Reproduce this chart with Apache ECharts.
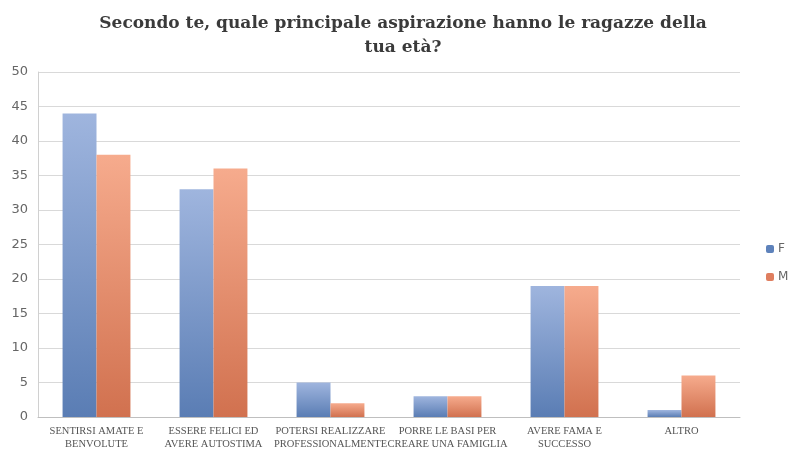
<!DOCTYPE html>
<html><head><meta charset="utf-8">
<script src="https://cdn.jsdelivr.net/npm/echarts@6/dist/echarts.min.js"></script>
<style>html,body{margin:0;padding:0;background:#fff}#c{width:790px;height:451px}</style>
</head><body><div id="c"></div>
<script>
const categories = ["SENTIRSI AMATE E\nBENVOLUTE","ESSERE FELICI ED\nAVERE AUTOSTIMA","POTERSI REALIZZARE\nPROFESSIONALMENTE","PORRE LE BASI PER\nCREARE UNA FAMIGLIA","AVERE FAMA E\nSUCCESSO","ALTRO"];
const seriesF = [44,33,5,3,19,1];
const seriesM = [38,36,2,3,19,6];
const yTicks = {min:0,max:50,interval:5};

const grad = (top,bottom)=>new echarts.graphic.LinearGradient(0,0,0,1,[{offset:0,color:top},{offset:1,color:bottom}]);
const chart = echarts.init(document.getElementById('c'));
chart.setOption({
  animation:false,
  title:{text:"Secondo te, quale principale aspirazione hanno le ragazze della\ntua età?",left:398,top:7,textAlign:'center',
    textStyle:{fontFamily:'DejaVu Serif',fontWeight:'bold',fontSize:17,color:'#3a3a3a',lineHeight:24}},
  legend:{orient:'vertical',left:761,top:238,itemWidth:8,itemHeight:8,itemGap:16,padding:[5,2,5,5],
    textStyle:{fontFamily:'DejaVu Sans',fontSize:12,color:'#666',padding:[0,0,0,-1]},
    data:[{name:'F',itemStyle:{color:'#5e82bb'}},{name:'M',itemStyle:{color:'#df7e5f'}}]},
  grid:{left:38,right:50,top:72,bottom:32,containLabel:false},
  xAxis:{type:'category',data:categories,
    axisLine:{lineStyle:{color:'#bfbfbf'}},axisTick:{show:false},
    axisLabel:{interval:0,fontFamily:'Liberation Serif',fontSize:10.5,color:'#555',lineHeight:13,margin:8}},
  yAxis:{type:'value',min:yTicks.min,max:yTicks.max,interval:yTicks.interval,
    axisLine:{show:true,lineStyle:{color:'#d0d0d0'}},axisTick:{show:false},
    splitLine:{lineStyle:{color:'#d9d9d9'}},
    axisLabel:{fontFamily:'DejaVu Sans',fontSize:13,color:'#666',margin:10}},
  series:[
    {name:'F',type:'bar',data:seriesF,barGap:'0%',barCategoryGap:'42%',
      itemStyle:{color:grad('#9fb5de','#5a7db4')}},
    {name:'M',type:'bar',data:seriesM,
      itemStyle:{color:grad('#f6ab8d','#d1714f')}}
  ]
});
</script></body></html>
